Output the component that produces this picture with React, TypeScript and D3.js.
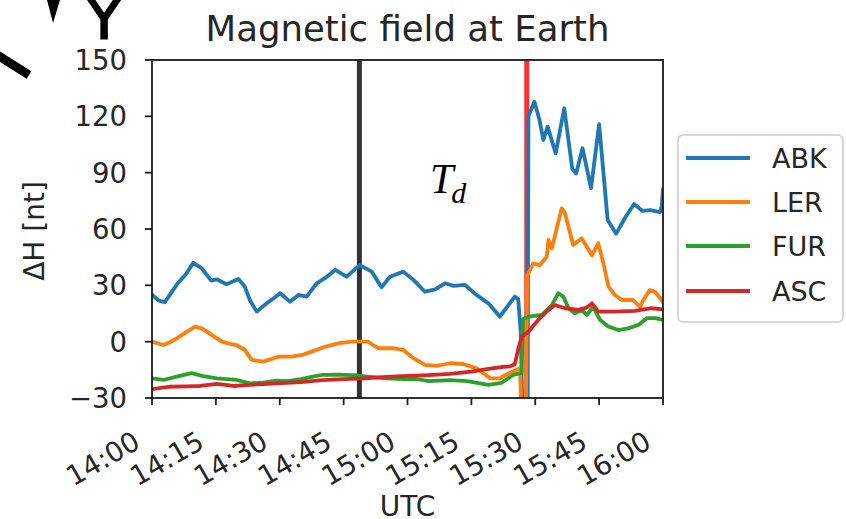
import React from 'react';
import * as d3 from 'd3';

// Minutes after 14:00 UTC
const xTickMinutes = [0, 15, 30, 45, 60, 75, 90, 105, 120];
const xTickLabels = ['14:00', '14:15', '14:30', '14:45', '15:00', '15:15', '15:30', '15:45', '16:00'];
const yTicks = [-30, 0, 30, 60, 90, 120, 150];
const yTickLabels = ['\u221230', '0', '30', '60', '90', '120', '150'];

const seriesNames = ['ABK', 'LER', 'FUR', 'ASC'];
const seriesColors = ['#1f77b4', '#ff7f0e', '#2ca02c', '#d62728'];

const abkTime = [0, 1.5, 3, 4.5, 6, 8, 9.7, 11.7, 13.9, 15.2, 17.5, 20.3, 21.8, 23, 24.6, 26.9, 28.5, 30.1, 32.4, 34.4, 36.3, 38.7, 40.6, 43, 45.7, 48.8, 51.6, 53.9, 55.9, 59, 61.4, 64.1, 66.5, 68.8, 70.8, 73.5, 76.2, 79, 81.7, 83.7, 85.2, 86, 86.6, 87, 88.2, 88.4, 89.8, 91, 91.9, 92.9, 94.8, 96.8, 98.7, 99.6, 101.1, 103.1, 105, 107, 109, 111.1, 113.2, 115.2, 117, 119.3, 119.7, 120];
const abkValues = [25, 22, 21, 26, 31, 36, 42, 39, 32.5, 33.2, 30.6, 33.4, 29.3, 22, 16, 20.4, 23, 25.8, 21.3, 24.9, 24, 31.1, 33.8, 38.2, 34.6, 40.8, 37.3, 29, 34.6, 37.3, 32.9, 26.6, 27.9, 31.1, 29.7, 30.2, 24.9, 20.4, 13.3, 19.5, 24, 22.6, 5, -40, -40, 120, 127.8, 118, 107.4, 114.5, 100.3, 124.3, 92, 89.5, 103, 81.7, 115.8, 64.8, 57.5, 66, 73.3, 69.6, 70, 69, 72, 81];

const lerTime = [0, 1.5, 2.7, 4.5, 5.8, 7.7, 10.1, 11.7, 14, 16.4, 18, 19.9, 21.8, 23.4, 26.1, 29.7, 32.8, 35.2, 37.5, 40.6, 43.7, 46.9, 50.8, 52, 53.1, 56.3, 59, 61.4, 64.1, 66.9, 70, 73.1, 76.2, 79.4, 81.7, 84.1, 85.6, 86.4, 86.8, 87.8, 88.1, 89.5, 91.1, 92.7, 93.1, 93.9, 96.2, 97, 98.9, 100.9, 103.3, 104.8, 106, 107.2, 108.7, 110.3, 113, 114.6, 115.4, 116.9, 118.1, 119.7, 120];
const lerValues = [0, -1, -1.8, 0, 1.8, 4.5, 8, 7.1, 3.6, 0, -1, -1.8, -4.4, -9.7, -10.6, -8, -8, -7.1, -5.3, -2.7, -0.9, 0, 0, -2, -3.5, -3.5, -4.4, -8.8, -12.4, -12.9, -11.5, -11.9, -14.2, -19.5, -19.5, -16.5, -15.1, -14, -40, -40, 35, 41.7, 40.8, 45.3, 54.2, 49.7, 71, 68.4, 51.5, 55.1, 46, 52.4, 41.7, 29.3, 24.9, 22.2, 22.2, 18.5, 22.2, 27.5, 26.6, 22.2, 21];

const furTime = [0, 2.7, 5.8, 9.3, 12, 15.2, 19.9, 23, 26.1, 29.3, 32, 35, 38, 40, 44, 48, 50, 55, 59, 62, 65, 70, 74, 79, 82, 85, 86.8, 87.1, 88.4, 91.5, 93.9, 95.4, 96.6, 97.8, 99.3, 100.9, 102.1, 103.6, 105.2, 107.2, 109.5, 111.8, 114.2, 116.2, 118.1, 120];
const furValues = [-19.5, -20.4, -18.6, -16.8, -18.3, -19.5, -20.4, -22.2, -21.8, -20.8, -21, -20, -18.5, -17.7, -17.5, -18, -18.5, -19.5, -20, -19.8, -21, -20.5, -21, -23, -22, -17.5, -16.7, 12, 13.3, 14.2, 19.5, 25.8, 24, 17.8, 15.1, 16.9, 14.2, 18.6, 11.6, 8, 6.2, 7.1, 8.9, 12.5, 12.5, 11.6];

const ascTime = [0, 4.2, 8, 11.3, 15.2, 19.1, 23, 29.3, 35, 40, 45, 50, 55, 59, 65, 70, 75, 79, 82, 84, 85.2, 86, 86.8, 88.4, 90.7, 93.1, 94.6, 97, 100.1, 102, 103.3, 104.8, 108.7, 113.4, 117.3, 120];
const ascValues = [-25.3, -24, -23.8, -23.6, -22.5, -23.6, -23, -22.2, -21.5, -20.5, -20, -19.5, -18.8, -18.3, -17.8, -17.2, -16, -14.5, -13.5, -13.2, -12, -4, 2.7, 5.3, 11.6, 16.9, 19.5, 17.8, 16.9, 18, 20.4, 16, 16, 16.4, 17.8, 17.2];

const seriesTimes = [abkTime, lerTime, furTime, ascTime];
const seriesValues = [abkValues, lerValues, furValues, ascValues];

// Marker lines: T_d (black) and onset (red), minutes after 14:00
const tdTime = 48.7;
const onsetTime = 88.0;

const W = 846;
const H = 519;
const M = { left: 152, right: 663, top: 60, bottom: 398 };
const FONT = '"DejaVu Sans", sans-serif';

export default function App() {
  const x = d3.scaleLinear().domain([0, 120]).range([M.left, M.right]);
  const y = d3.scaleLinear().domain([-30, 150]).range([M.bottom, M.top]);
  const line = d3
    .line<[number, number]>()
    .x((d) => x(d[0]))
    .y((d) => y(d[1]));

  const legendY = [158, 202, 246, 291];

  return (
    <svg
      width={W}
      height={H}
      style={{ position: 'absolute', left: 0, top: 0, background: '#fff' }}
      fontFamily={FONT}
    >
      <rect x={0} y={0} width={W} height={H} fill="#fff" />
      <defs>
        <clipPath id="plotClip">
          <rect x={M.left} y={M.top} width={M.right - M.left} height={M.bottom - M.top} />
        </clipPath>
      </defs>

      {/* cropped fragments from neighbouring figure */}
      <text x={104} y={38} fontSize={56} textAnchor="middle" fill="#000" stroke="#000" strokeWidth={2}>Y</text>
      <polygon points="47,0 60,0 53,23" fill="#000" />
      <line x1={-6} y1={53} x2={29} y2={75} stroke="#000" strokeWidth={9} />

      {/* title */}
      <text x={(M.left + M.right) / 2} y={41} fontSize={35.5} textAnchor="middle" fill="#262626">
        Magnetic field at Earth
      </text>

      <g clipPath="url(#plotClip)">
        <line x1={x(tdTime)} x2={x(tdTime)} y1={M.top} y2={M.bottom} stroke="#333" strokeWidth={5} />
        <line x1={x(onsetTime)} x2={x(onsetTime)} y1={M.top} y2={M.bottom} stroke="#ff3333" strokeWidth={5} />
        {seriesNames.map((name, i) => {
          const pts = seriesTimes[i].map((t, j) => [t, seriesValues[i][j]] as [number, number]);
          return (
            <path
              key={name}
              d={line(pts) || ''}
              fill="none"
              stroke={seriesColors[i]}
              strokeWidth={3.8}
              strokeLinejoin="round"
              strokeLinecap="square"
            />
          );
        })}
      </g>

      {/* Td label */}
      <text x={430} y={193} fontFamily='"Liberation Serif", serif' fontStyle="italic" fontSize={42} fill="#000">
        T
        <tspan fontSize={30} dy={10} dx={-2}>d</tspan>
      </text>

      {/* frame */}
      <rect
        x={M.left}
        y={M.top}
        width={M.right - M.left}
        height={M.bottom - M.top}
        fill="none"
        stroke="#1a1a1a"
        strokeWidth={1.8}
      />

      {/* y axis */}
      {yTicks.map((v, i) => (
        <g key={'y' + v}>
          <line x1={M.left - 7} x2={M.left} y1={y(v)} y2={y(v)} stroke="#1a1a1a" strokeWidth={1.8} />
          <text x={M.left - 25} y={y(v)} dy="0.36em" fontSize={27.5} textAnchor="end" fill="#262626">
            {yTickLabels[i]}
          </text>
        </g>
      ))}
      <text
        transform={`translate(44,231) rotate(-90)`}
        fontSize={28}
        textAnchor="middle"
        fill="#262626"
      >
        ΔH [nt]
      </text>

      {/* x axis */}
      {xTickMinutes.map((m, i) => {
        const tx = x(m);
        const ax = tx - 10;
        const ay = 447;
        return (
          <g key={'x' + m}>
            <line x1={tx} x2={tx} y1={M.bottom} y2={M.bottom + 7} stroke="#1a1a1a" strokeWidth={1.8} />
            <text
              x={ax}
              y={ay}
              fontSize={27.5}
              textAnchor="end"
              fill="#262626"
              transform={`rotate(-30, ${ax}, ${ay})`}
            >
              {xTickLabels[i]}
            </text>
          </g>
        );
      })}
      <text x={(M.left + M.right) / 2} y={516} fontSize={28} textAnchor="middle" fill="#262626">
        UTC
      </text>

      {/* legend */}
      <rect x={678} y={135} width={165} height={187} rx={5} fill="#fff" fillOpacity={0.8} stroke="#cccccc" strokeWidth={1.5} />
      {seriesNames.map((name, i) => (
        <g key={'leg' + name}>
          <line x1={686} x2={750} y1={legendY[i]} y2={legendY[i]} stroke={seriesColors[i]} strokeWidth={3.8} />
          <text x={772} y={legendY[i]} dy="0.36em" fontSize={27} fill="#262626">
            {name}
          </text>
        </g>
      ))}
    </svg>
  );
}
